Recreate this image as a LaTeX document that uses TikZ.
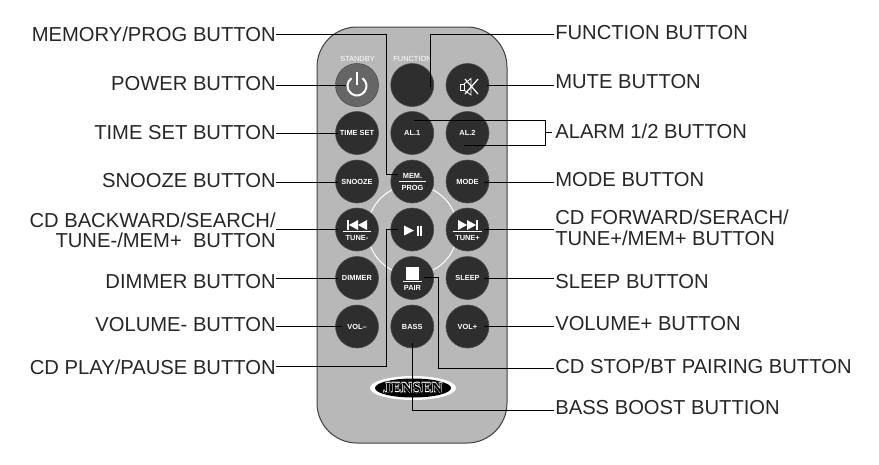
\documentclass[tikz,border=0pt]{standalone}
\usepackage{fontspec}
\setmainfont{Liberation Sans}
\newfontfamily\logofont{Liberation Serif}
\usetikzlibrary{positioning, shapes.geometric}

\begin{document}
\begin{tikzpicture}[
            x = 1pt,
            y = -1pt,
            node distance = 12.25pt, % gap between buttons
            semithick % line style
        ]

        \tikzset{
            button/.style = {
                circle,
                draw = black!70,
                fill = black!82,
                text = white,
                inner sep = 0pt,
                outer sep = 0pt,
                minimum size = 43pt,
                font = \bfseries\fontsize{7.4}{8.5}\selectfont
            },
            buttontext/.style = {
                text = white,
                inner sep = 0pt,
                font = \bfseries\fontsize{7.4}{8.5}\selectfont
            },
            toplabel/.style = {
                text = white,
                inner sep = 0pt,
                font = \fontsize{7.4}{8}\selectfont
            },
            leftlabel/.style = {
                anchor = east,
                inner sep = 0pt,
                align = right,
                text = black!85,
                font = \fontsize{20.2}{20.5}\selectfont
            },
            rightlabel/.style = {
                anchor = west,
                inner sep = 0pt,
                align = left,
                text = black!85,
                font = \fontsize{20.2}{20.5}\selectfont
            },
            logotext/.style = {
                inner sep = 0pt,
                font = \logofont\bfseries\fontsize{15.5}{15.5}\selectfont
            },
            wire/.style = {draw = black, line width = 1pt}
        }

	\useasboundingbox (0,0) rectangle (879,464);

	% remote body
	\draw[draw = black!75, fill = black!28, line width = 1pt, rounded corners = 40pt]
		(317,27) rectangle (507,443);
	\draw[white, line width = 1pt] (412.5,230) circle (45);

	% buttons
	\node[button, fill = black!60] (standby) at (357,85) {};
	\node[button] (function) [right=of standby] {};
	\node[button] (mute) [right=of function] {};
	\node[button] (timeset) at (357,133) {TIME SET};
	\node[button] (al1) [right=of timeset] {AL.1};
	\node[button] (al2) [right=of al1] {AL.2};
	\node[button] (snooze) at (357,181.5) {SNOOZE};
	\node[button] (memprog) [right=of snooze] {};
	\node[button] (mode) [right=of memprog] {MODE};
	\node[button] (backward) at (357,229.5) {};
	\node[button] (playpause) [right=of backward] {};
	\node[button] (forward) [right=of playpause] {};
	\node[button] (dimmer) at (357,278) {DIMMER};
	\node[button] (pair) [right=of dimmer] {};
	\node[button] (sleep) [right=of pair] {SLEEP};
	\node[button] (voldown) at (357,326.5) {VOL--};
	\node[button] (bass) [right=of voldown] {BASS};
	\node[button] (volup) [right=of bass] {VOL+};

	\node[toplabel] (standbytext) at (357.5,58.5) {STANDBY};
	\node[toplabel] (functiontext) at (412.5,58.5) {FUNCTION};
	\node[buttontext] (memtext) at (412.5,175.5) {MEM.};
	\node[buttontext] (progtext) at (412.5,188) {PROG};
	\node[buttontext] (tunedown) at (357,237.5) {TUNE-};
	\node[buttontext] (tuneup) at (467.5,237.5) {TUNE+};
	\node[buttontext] (pairtext) at (412.5,287.5) {PAIR};

	% icons on the buttons
	\draw[white, line width = 2pt] (362.4,78.2) arc (-55:235:9.5);
	\draw[white, line width = 2pt] (357,72) -- (357,85);
	\draw[white, line width = .8pt] (460.5,84) rectangle (464,90);
	\draw[white, line width = .8pt] (464,84) -- (471,78.5) -- (471,95) -- (464,90);
	\draw[white, line width = 1.2pt] (465,79) -- (478,94) (478,79) -- (465,94);
	\draw[white, line width = 1pt] (399,181) -- (426,181);
	\fill[white] (346.5,220) rectangle (348.5,230);
	\fill[white] (358,220) -- (349,225) -- (358,230) -- cycle;
	\fill[white] (367,220) -- (358,225) -- (367,230) -- cycle;
	\draw[white, line width = 1pt] (343,231.5) -- (371,231.5);
	\fill[white] (476,220) rectangle (478,230);
	\fill[white] (458,220) -- (467,225) -- (458,230) -- cycle;
	\fill[white] (467,220) -- (476,225) -- (467,230) -- cycle;
	\draw[white, line width = 1pt] (453,231.5) -- (482,231.5);
	\fill[white] (404,225.5) -- (414,230.5) -- (404,235.5) -- cycle;
	\fill[white] (416.5,225.5) rectangle (418.5,235.5);
	\fill[white] (420,225.5) rectangle (422,235.5);
	\fill[white] (406,267) rectangle (419,280);
	\draw[white, line width = 1pt] (403,281.5) -- (422,281.5);

	% logo
	\node[ellipse, fill = white, minimum width = 86pt, minimum height = 24pt, inner sep = 0pt] (logorim) at (413,388) {};
	\node[ellipse, fill = black, minimum width = 76pt, minimum height = 19pt, inner sep = 0pt] (logoblack) at (413,388) {};
	\node[logotext, text = white] (logohalo1) at (412.6,387.7) {JENSEN};
	\node[logotext, text = white] (logohalo2) at (413.4,387.7) {JENSEN};
	\node[logotext, text = white] (logohalo3) at (412.6,388.3) {JENSEN};
	\node[logotext, text = white] (logohalo4) at (413.4,388.3) {JENSEN};
	\node[logotext, text = black] (logo) at (413,388) {JENSEN};

	% left labels
	\node[leftlabel] (memlabel) at (276,34) {MEMORY/PROG BUTTON};
	\node[leftlabel] (powerlabel) at (276,84) {POWER BUTTON};
	\node[leftlabel] (timelabel) at (276,133) {TIME SET BUTTON};
	\node[leftlabel] (snoozelabel) at (276,181) {SNOOZE BUTTON};
	\node[leftlabel] (backlabel) at (276,230.5) {CD BACKWARD/SEARCH/\\TUNE-/MEM+\ \ BUTTON};
	\node[leftlabel] (dimmerlabel) at (276,282) {DIMMER BUTTON};
	\node[leftlabel] (voldownlabel) at (276,325) {VOLUME- BUTTON};
	\node[leftlabel] (playlabel) at (276,367) {CD PLAY/PAUSE BUTTON};

	% right labels
	\node[rightlabel] (functionlabel) at (555,33) {FUNCTION BUTTON};
	\node[rightlabel] (mutelabel) at (555,82) {MUTE BUTTON};
	\node[rightlabel] (alarmlabel) at (555,131) {ALARM 1/2 BUTTON};
	\node[rightlabel] (modelabel) at (555,180) {MODE BUTTON};
	\node[rightlabel] (forwardlabel) at (555,228) {CD FORWARD/SERACH/\\TUNE+/MEM+ BUTTON};
	\node[rightlabel] (sleeplabel) at (555,282) {SLEEP BUTTON};
	\node[rightlabel] (voluplabel) at (555,324) {VOLUME+ BUTTON};
	\node[rightlabel] (stoplabel) at (555,366) {CD STOP/BT PAIRING BUTTON};
	\node[rightlabel] (basslabel) at (555,408) {BASS BOOST BUTTION};

	% free ends of the connectors
	\coordinate (memend) at (398,174);
	\coordinate (memturn) at (386,34.5);
	\coordinate (functionend) at (430,87);
	\coordinate (functionturn) at (430,34.5);
	\coordinate (powerend) at (346,85);
	\coordinate (muteend) at (487,85.5);
	\coordinate (timeend) at (338,133);
	\coordinate (al1end) at (414,120);
	\coordinate (al2end) at (464,145);
	\coordinate (brackettop) at (545,120);
	\coordinate (bracketlow) at (545,145);
	\coordinate (alarmstub) at (545,132.5);
	\coordinate (snoozeend) at (338,182);
	\coordinate (modeend) at (484,182);
	\coordinate (backend) at (338,229.5);
	\coordinate (forwardend) at (484,229.5);
	\coordinate (playend) at (398,229.5);
	\coordinate (playturn) at (386,366.5);
	\coordinate (dimmerend) at (338,278);
	\coordinate (sleepend) at (484,278);
	\coordinate (voldownend) at (342,326.5);
	\coordinate (volupend) at (484,326.5);
	\coordinate (pairend) at (424,277);
	\coordinate (pairturn) at (438,368);
	\coordinate (bassend) at (412,343);
	\coordinate (bassturn) at (412,410);

	% connectors
	\draw[wire] (memlabel.east |- memturn) -- (memturn) -- (memturn |- memend) -- (memend);
	\draw[wire, shorten < = 1pt] (functionlabel.west |- functionturn) -- (functionturn) -- (functionend);
	\draw[wire] (powerlabel.east |- powerend) -- (powerend);
	\draw[wire, shorten < = 1pt] (mutelabel.west |- muteend) -- (muteend);
	\draw[wire] (timelabel.east |- timeend) -- (timeend);
	\draw[wire] (al1end) -- (brackettop) -- (bracketlow) -- (al2end);
	\draw[wire, shorten < = 3pt] (alarmlabel.west |- alarmstub) -- (alarmstub);
	\draw[wire] (snoozelabel.east |- snoozeend) -- (snoozeend);
	\draw[wire, shorten < = 1pt] (modelabel.west |- modeend) -- (modeend);
	\draw[wire] (backlabel.east |- backend) -- (backend);
	\draw[wire, shorten < = 1pt] (forwardlabel.west |- forwardend) -- (forwardend);
	\draw[wire] (playlabel.east |- playturn) -- (playturn) -- (playturn |- playend) -- (playend);
	\draw[wire] (dimmerlabel.east |- dimmerend) -- (dimmerend);
	\draw[wire, shorten < = 1pt] (sleeplabel.west |- sleepend) -- (sleepend);
	\draw[wire] (voldownlabel.east |- voldownend) -- (voldownend);
	\draw[wire, shorten < = 1pt] (voluplabel.west |- volupend) -- (volupend);
	\draw[wire, shorten < = 1pt] (stoplabel.west |- pairturn) -- (pairturn) -- (pairturn |- pairend) -- (pairend);
	\draw[wire, shorten > = 1pt] (bassend) -- (bassturn) -- (basslabel.west |- bassturn);

\end{tikzpicture}
\end{document}
